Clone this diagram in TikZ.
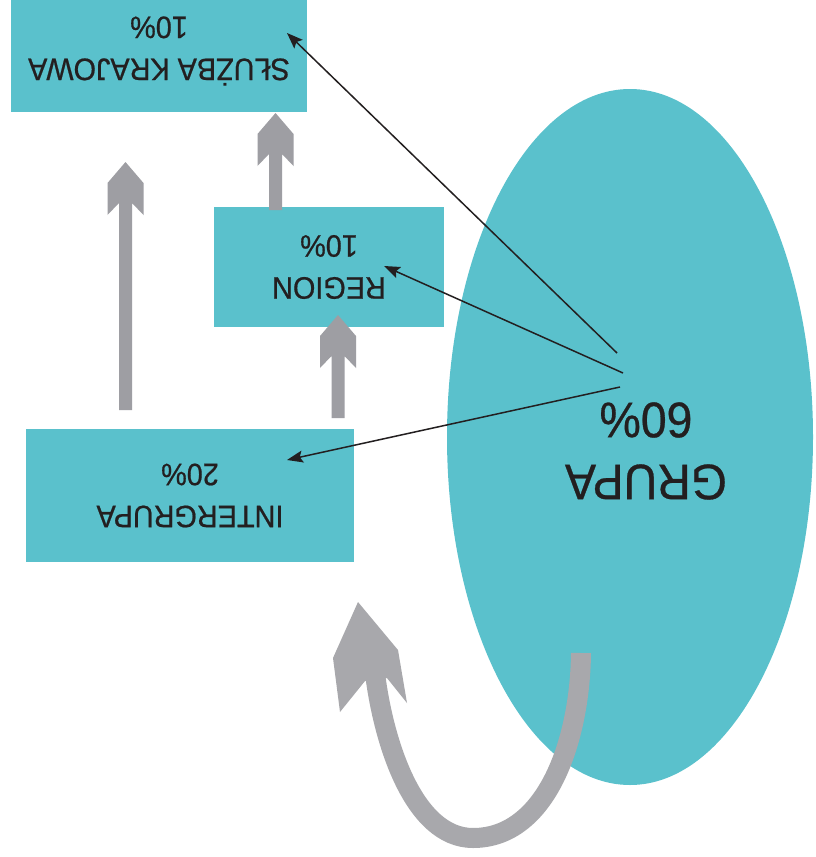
\documentclass[tikz,border=0pt]{standalone}
\usepackage{fontspec}
\setmainfont{Liberation Sans}[FakeStretch=0.93,FakeBold=0.6]
\usetikzlibrary{shapes.geometric,arrows.meta}
\definecolor{tealfill}{RGB}{90,193,204}
\definecolor{grayarr}{RGB}{158,158,163}
\definecolor{grayarrb}{RGB}{168,168,172}
\definecolor{ink}{RGB}{35,31,32}
\newcommand\GrayUp[3]{% #1 x centre, #2 bottom y, #3 tip y
  \fill[grayarr] (#1-6.5,#2) -- (#1-6.5,#3+41) -- (#1-18,#3+53) -- (#1-18,#3+21) -- (#1,#3)
    -- (#1+18,#3+21) -- (#1+18,#3+53) -- (#1+6.5,#3+41) -- (#1+6.5,#2) -- cycle;}
\begin{document}
\begin{tikzpicture}[x=1pt,y=-1pt,
  box/.style={rectangle,fill=tealfill,inner sep=0pt,text=ink,align=center,
    font=\fontsize{31}{42}\selectfont,rotate=180},
  conn/.style={draw=ink,line width=1.5pt,-{Stealth[length=16pt,width=12pt,inset=3pt]}}]
\useasboundingbox (0,0) rectangle (816,857);
\fill[white] (0,0) rectangle (816,857);
% boxes
\node[box,minimum width=296pt,minimum height=122pt] (sluzba) at (159,51) {SŁUŻBA KRAJOWA\\10\%};
\node[box,minimum width=230pt,minimum height=120pt] (region) at (329,267) {REGION\\10\%};
\node[box,minimum width=328pt,minimum height=133pt] (inter) at (190,495.5) {INTERGRUPA\\20\%};
% ellipse
\node[ellipse,fill=tealfill,minimum width=366pt,minimum height=696pt,inner sep=0pt] (grupa) at (630,437) {};
\node[text=ink,align=center,font=\fontsize{50}{62}\selectfont,rotate=180] (grupalbl) at (646,451) {GRUPA\\60\%};
% gray straight arrows
\GrayUp{125.5}{410}{162}
\GrayUp{275.5}{210}{113}
\GrayUp{338}{418}{315}
% gray curved arrow
\draw[grayarrb,line width=20pt] (581,653) .. controls (580,740) and (547,838) .. (473,838)
  .. controls (413,838) and (382,740) .. (374,665);
\fill[grayarrb] (358,602) -- (398,650) -- (407,703) -- (387,678) -- (365,681) -- (340,712) -- (333,658) -- cycle;
% black connectors
\coordinate (s1) at (617,353);
\coordinate (s2) at (623,373);
\coordinate (s3) at (620,387);
\coordinate (t1) at (287,33);
\coordinate (t2) at (384,266);
\coordinate (t3) at (287,460);
\draw[conn] (s1) -- (t1);
\draw[conn] (s2) -- (t2);
\draw[conn] (s3) -- (t3);
\end{tikzpicture}
\end{document}
